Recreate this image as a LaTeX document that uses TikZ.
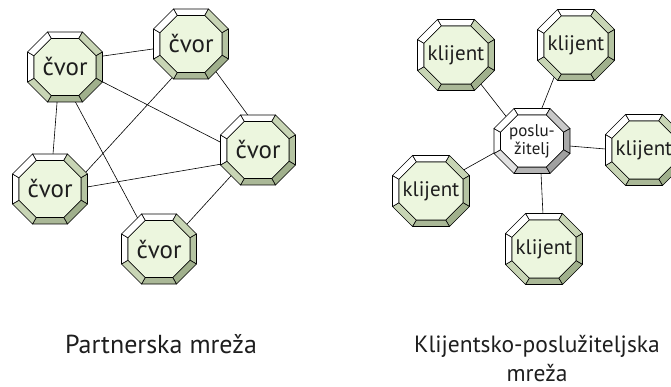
\documentclass[tikz,border=0pt]{standalone}
\usepackage{fontspec}
\setmainfont{PT Sans}
\usetikzlibrary{calc,backgrounds}
\definecolor{gfill}{RGB}{236,246,222}
\definecolor{gTR}{RGB}{200,213,181}
\definecolor{gR}{RGB}{181,196,162}
\definecolor{gBR}{RGB}{160,176,140}
\definecolor{gB}{RGB}{170,184,151}
\definecolor{gBL}{RGB}{200,213,181}
\definecolor{sTR}{RGB}{200,200,200}
\definecolor{sR}{RGB}{169,169,169}
\definecolor{sBR}{RGB}{160,160,160}
\definecolor{sB}{RGB}{180,180,180}
\definecolor{sBL}{RGB}{225,225,225}
\definecolor{txt}{RGB}{30,30,30}
\def\octd{0.5pt}
\def\octc{20pt}
\def\octi{7pt}
\def\octic{17.3pt}
\newcommand\octfacets[6]{%
  \path let \p1=(path picture bounding box.north west), \p2=(path picture bounding box.south east) in
    (\x1+\octd+\octc,\y1-\octd) coordinate (o1)
    (\x2-\octd-\octc,\y1-\octd) coordinate (o2)
    (\x2-\octd,\y1-\octd-\octc) coordinate (o3)
    (\x2-\octd,\y2+\octd+\octc) coordinate (o4)
    (\x2-\octd-\octc,\y2+\octd) coordinate (o5)
    (\x1+\octd+\octc,\y2+\octd) coordinate (o6)
    (\x1+\octd,\y2+\octd+\octc) coordinate (o7)
    (\x1+\octd,\y1-\octd-\octc) coordinate (o8)
    (\x1+\octi+\octic,\y1-\octi) coordinate (i1)
    (\x2-\octi-\octic,\y1-\octi) coordinate (i2)
    (\x2-\octi,\y1-\octi-\octic) coordinate (i3)
    (\x2-\octi,\y2+\octi+\octic) coordinate (i4)
    (\x2-\octi-\octic,\y2+\octi) coordinate (i5)
    (\x1+\octi+\octic,\y2+\octi) coordinate (i6)
    (\x1+\octi,\y2+\octi+\octic) coordinate (i7)
    (\x1+\octi,\y1-\octi-\octic) coordinate (i8);
  \begin{scope}[draw=black, line width=0.6pt, line join=round]
  \filldraw[fill=white] (o1)--(o2)--(i2)--(i1)--cycle;
  \filldraw[fill=#2] (o2)--(o3)--(i3)--(i2)--cycle;
  \filldraw[fill=#3] (o3)--(o4)--(i4)--(i3)--cycle;
  \filldraw[fill=#4] (o4)--(o5)--(i5)--(i4)--cycle;
  \filldraw[fill=#5] (o5)--(o6)--(i6)--(i5)--cycle;
  \filldraw[fill=#6] (o6)--(o7)--(i7)--(i6)--cycle;
  \filldraw[fill=white] (o7)--(o8)--(i8)--(i7)--cycle;
  \filldraw[fill=white] (o8)--(o1)--(i1)--(i8)--cycle;
  \filldraw[fill=#1] (i1)--(i2)--(i3)--(i4)--(i5)--(i6)--(i7)--(i8)--cycle;
  \end{scope}
}
\tikzset{
  octbase/.style={rectangle, draw=none, inner sep=0pt, text=txt},
  cvor/.style={octbase, minimum width=76pt, minimum height=71pt,
    font=\fontsize{25}{28}\selectfont,
    path picture={\octfacets{gfill}{gTR}{gR}{gBR}{gB}{gBL}}},
  klijent/.style={octbase, minimum width=78pt, minimum height=72pt,
    font=\fontsize{21}{24}\selectfont,
    path picture={\octfacets{gfill}{gTR}{gR}{gBR}{gB}{gBL}}},
  server/.style={octbase, minimum width=77pt, minimum height=66pt,
    font=\fontsize{17}{18}\selectfont, align=center,
    path picture={\octfacets{white}{sTR}{sR}{sBR}{sB}{sBL}}},
  link/.style={draw=black, line width=0.6pt},
  title/.style={text=txt, font=\fontsize{26}{30}\selectfont, align=center}
}
\begin{document}
\begin{tikzpicture}[x=1pt,y=-1pt]
\useasboundingbox (0,0) rectangle (671,387);
% left panel
\node[cvor] (n1) at (65,67) {čvor};
\node[cvor] (n2) at (191,44) {čvor};
\node[cvor] (n3) at (258,150) {čvor};
\node[cvor] (n4) at (50,189) {čvor};
\node[cvor] (n5) at (159,249) {čvor};
% right panel
\node[server] (s) at (532,141) {poslu-\\žitelj};
\node[klijent] (c1) at (456,55) {klijent};
\node[klijent] (c2) at (576,45) {klijent};
\node[klijent] (c3) at (644,150) {klijent};
\node[klijent] (c4) at (431,191) {klijent};
\node[klijent] (c5) at (544,249) {klijent};
% titles
\node[title, anchor=base] (t1) at (161,353) {Partnerska mreža};
\node[title, anchor=base, font=\fontsize{23.5}{29}\selectfont] (t2) at (537,381) {Klijentsko-poslužiteljska\\mreža};
\begin{pgfonlayer}{background}
\draw[link] ($(n1.center)+(34,-10.4)$) -- ($(n2.center)+(-34,4.4)$);
\draw[link] ($(n1.center)+(34.4,13.2)$) -- ($(n3.center)+(-34.4,-6.2)$);
\draw[link] ($(n1.center)+(-7.7,32)$) -- ($(n4.center)+(2.7,-31)$);
\draw[link] ($(n1.center)+(9.1,32.5)$) -- ($(n5.center)+(-20.1,-28.5)$);
\draw[link] ($(n2.center)+(23.6,25.8)$) -- ($(n3.center)+(-8.6,-32.8)$);
\draw[link] ($(n2.center)+(-16.3,31)$) -- ($(n4.center)+(32.3,-13)$);
\draw[link] ($(n4.center)+(33,-1.3)$) -- ($(n3.center)+(-32,13.3)$);
\draw[link] ($(n5.center)+(26.3,-23)$) -- ($(n3.center)+(-25.3,24)$);
\draw[link] ($(c1.center)+(21.5,24.8)$) -- ($(s.center)+(-24.5,-22.8)$);
\draw[link] ($(c2.center)+(-21.5,31.3)$) -- ($(s.center)+(8.5,-29.3)$);
\draw[link] ($(s.center)+(34,4.7)$) -- ($(c3.center)+(-35,-0.7)$);
\draw[link] ($(c4.center)+(32.5,-21)$) -- ($(s.center)+(-34.5,10)$);
\draw[link] ($(s.center)+(8.8,28)$) -- ($(c5.center)+(-0.8,-30)$);
\end{pgfonlayer}
\end{tikzpicture}
\end{document}
